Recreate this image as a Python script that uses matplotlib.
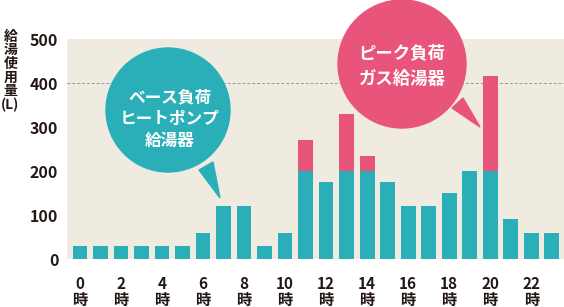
import matplotlib
matplotlib.use('Agg')
import matplotlib.pyplot as plt
from matplotlib.patches import Ellipse, Polygon
import numpy as np

plt.rcParams['font.family'] = ['Noto Sans CJK JP', 'DejaVu Sans']

# hourly hot-water use (L)
hours = np.arange(24)
base_load = [30, 30, 30, 30, 30, 30, 60, 120, 120, 30, 60, 200,
             175, 200, 200, 175, 120, 120, 150, 200, 200, 90, 60, 60]
peak_load = [0, 0, 0, 0, 0, 0, 0, 0, 0, 0, 0, 70,
             0, 130, 35, 0, 0, 0, 0, 0, 215, 0, 0, 0]
tick_hours = list(range(0, 24, 2))
tick_labels = [f'{h}\n時' for h in tick_hours]
y_ticks = [0, 100, 200, 300, 400, 500]
ref_line = 400

teal = '#2AAFB8'
pink = '#E8547A'
beige = '#EFEBE0'
dark = '#231815'

W, H = 564, 307
fig = plt.figure(figsize=(W / 100, H / 100), dpi=100)
ax = fig.add_axes([66.7 / W, (H - 259) / H, 1 - 66.7 / W, 220 / H])
ax.set_facecolor(beige)

ax.bar(hours, base_load, width=0.72, color=teal, zorder=2)
ax.bar(hours, peak_load, bottom=base_load, width=0.72, color=pink, zorder=2)
ax.axhline(ref_line, color='#999999', lw=0.7, ls=(0, (3, 2)), zorder=1)

ax.set_xlim(-0.65, 23.6)
ax.set_ylim(0, 500)
ax.set_xticks(tick_hours)
ax.set_xticklabels(tick_labels, fontsize=11, fontweight='bold', color=dark,
                   linespacing=1.0)
ax.set_yticks(y_ticks)
ax.set_yticklabels([str(v) for v in y_ticks], fontsize=11.5, fontweight='bold',
                   color=dark)
ax.tick_params(length=0)
ax.tick_params(axis='x', pad=12)
ax.tick_params(axis='y', pad=6)
for s in ax.spines.values():
    s.set_visible(False)

fig.text(10.5 / W, 1 - 71 / H, '給\n湯\n使\n用\n量\n(L)', fontsize=10,
         fontweight='bold', color=dark, ha='center', va='center',
         linespacing=0.97)


def px(x, y):
    return (x / W, 1 - y / H)


def bubble(cx, cy, r, tail, color, text, tx, ty, size, spacing):
    fig.patches.append(Ellipse(px(cx, cy), 2 * r / W, 2 * r / H,
                               transform=fig.transFigure, color=color,
                               zorder=5))
    fig.patches.append(Polygon([px(*p) for p in tail], closed=True,
                               transform=fig.transFigure, color=color,
                               zorder=5))
    fig.text(*px(tx, ty), text, fontsize=size, fontweight='bold',
             color='white', ha='center', va='center', linespacing=spacing,
             zorder=6)


bubble(168, 110, 62, [(199, 170), (213, 162), (220, 198)], teal,
       'ベース負荷\nヒートポンプ\n給湯器', 170, 119, 12, 1.28)
bubble(402, 64, 64, [(452, 108), (463, 98), (480, 127)], pink,
       'ピーク負荷\nガス給湯器', 402, 66, 12.5, 1.5)

fig.savefig('out.png', dpi=100)
